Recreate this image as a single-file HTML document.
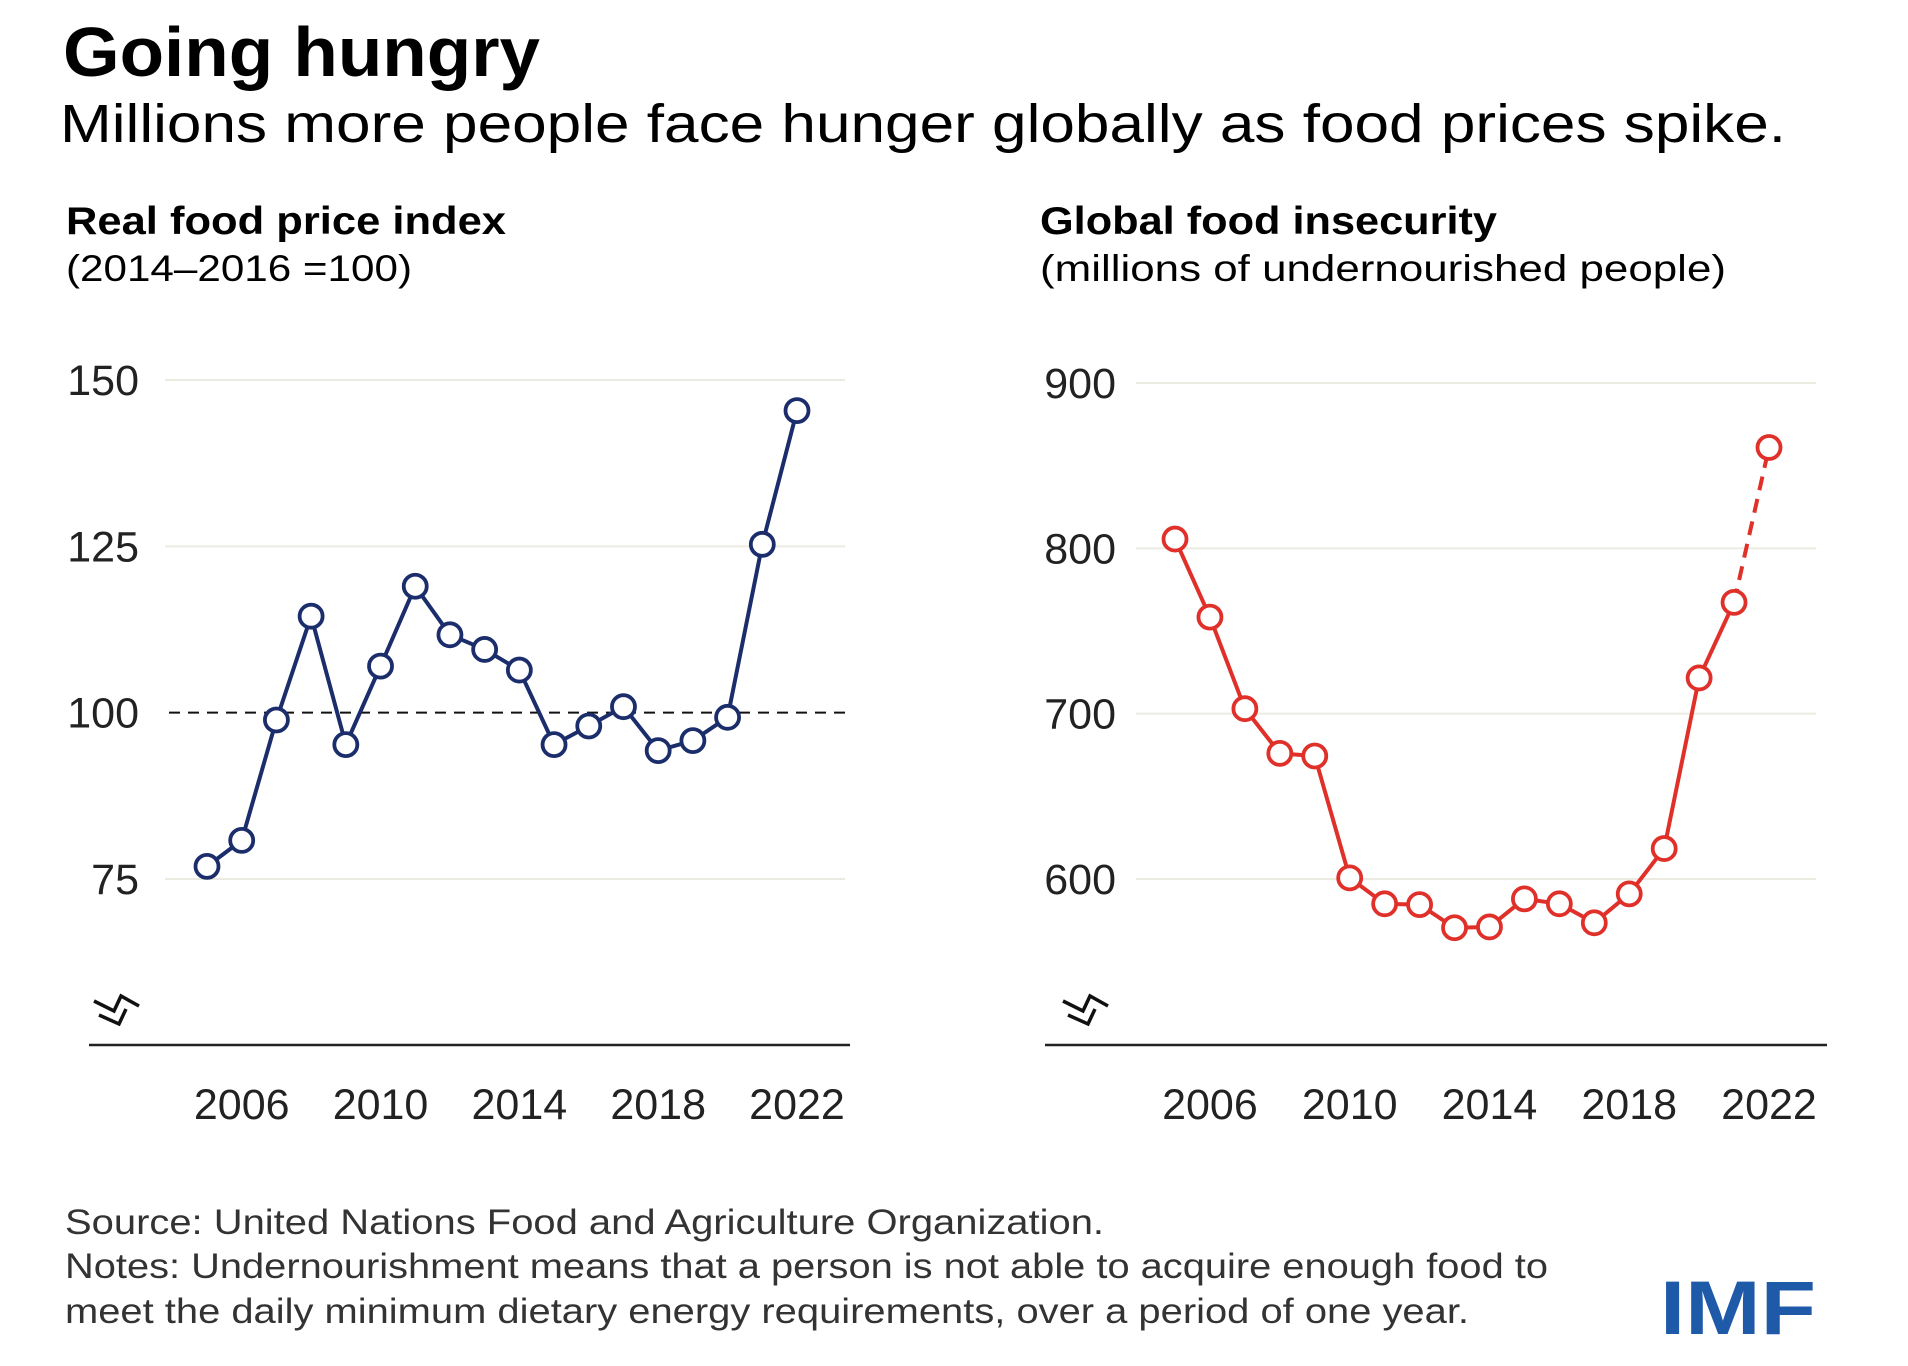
<!DOCTYPE html>
<html><head><meta charset="utf-8"><style>
html,body{margin:0;padding:0;background:#fff}
svg{display:block}
text{font-family:"Liberation Sans",sans-serif}
</style></head><body>
<svg id="root" width="1908" height="1366" viewBox="0 0 1908 1366">
<rect width="1908" height="1366" fill="#fff"/>
<text x="63" y="76" font-size="70" font-weight="bold" textLength="477" lengthAdjust="spacingAndGlyphs">Going hungry</text>
<text x="60" y="142" font-size="54" textLength="1726" lengthAdjust="spacingAndGlyphs">Millions more people face hunger globally as food prices spike.</text>
<text x="66" y="234" font-size="39" font-weight="bold" textLength="440" lengthAdjust="spacingAndGlyphs">Real food price index</text>
<text x="66" y="281" font-size="37" textLength="346" lengthAdjust="spacingAndGlyphs">(2014–2016 =100)</text>
<text x="1040" y="234" font-size="39" font-weight="bold" textLength="457" lengthAdjust="spacingAndGlyphs">Global food insecurity</text>
<text x="1040" y="281" font-size="37" textLength="686" lengthAdjust="spacingAndGlyphs">(millions of undernourished people)</text>
<g id="left"></g>
<g id="right"></g>
<text x="65" y="1234" font-size="35" fill="#333" textLength="1039" lengthAdjust="spacingAndGlyphs">Source: United Nations Food and Agriculture Organization.</text>
<text x="65" y="1278" font-size="35" fill="#333" textLength="1483" lengthAdjust="spacingAndGlyphs">Notes: Undernourishment means that a person is not able to acquire enough food to</text>
<text x="65" y="1323" font-size="35" fill="#333" textLength="1404" lengthAdjust="spacingAndGlyphs">meet the daily minimum dietary energy requirements, over a period of one year.</text>
<text x="1660" y="1334" font-size="76" font-weight="bold" fill="#1e5aa8" textLength="156" lengthAdjust="spacingAndGlyphs">IMF</text>
</svg>
<script>
const years = [2005,2006,2007,2008,2009,2010,2011,2012,2013,2014,2015,2016,2017,2018,2019,2020,2021,2022];
const priceValues = [76.9,80.8,98.9,114.5,95.2,107,119,111.7,109.5,106.4,95.2,98,100.9,94.3,95.8,99.3,125.3,145.4];
const hungerValues = [805.6,758.4,703,676,674.4,600.7,585,584.5,570.5,571,588,585,573.5,591,618.4,721.6,767.3,861];
const priceTicks = [75,100,125,150];
const hungerTicks = [600,700,800,900];
const yearTicks = [2006,2010,2014,2018,2022];

const NS = 'http://www.w3.org/2000/svg';
function mk(parent, tag, attrs){const e=document.createElementNS(NS,tag);for(const k in attrs)e.setAttribute(k,attrs[k]);parent.appendChild(e);return e;}

function drawPanel(g, cfg){
  const x = yr => cfg.x0 + (yr-2005)*(cfg.x1-cfg.x0)/17;
  const y = v => cfg.yTop + (cfg.vTop - v)*(cfg.yBot-cfg.yTop)/(cfg.vTop-cfg.vBot);
  cfg.ticks.forEach(t=>{
    if(!(cfg.dashed && t===100)){
      const l = mk(g,'line',{x1:cfg.gx0,x2:cfg.gx1,y1:y(t),y2:y(t),stroke:'#ecebe2','stroke-width':2});
      
      
    }
    const tx = mk(g,'text',{x:cfg.labelX,y:y(t)+15,'font-size':43,'text-anchor':'end',fill:'#222'});
    tx.textContent = t;
    
    
  });
  if(cfg.dashed){
    const d = mk(g,'line',{x1:cfg.gx0+4,x2:cfg.gx1+6,y1:y(100),y2:y(100),stroke:'#111','stroke-width':2,'stroke-dasharray':'11 8'});
    
    
  }
  const ax = mk(g,'line',{x1:cfg.ax0,x2:cfg.ax1,y1:1045,y2:1045,stroke:'#222','stroke-width':2.5});
  
  
  const b = cfg.bx - 118;
  const br = mk(g,'path',{d:`M${b+94},${1001} L${b+114},${1011} L${b+121},${996} L${b+139},${1006} M${b+99},${1015} L${b+119},${1024} L${b+126},${1009}`,fill:'none',stroke:'#111','stroke-width':3.5,'stroke-linejoin':'miter'});
  
  
  yearTicks.forEach(yr=>{
    const t = mk(g,'text',{x:x(yr),y:1119,'font-size':43,'text-anchor':'middle',fill:'#222'});
    t.textContent = yr;
    
    
  });
  const vals = cfg.values;
  const solidN = cfg.dashLast ? vals.length-1 : vals.length;
  let pts = '';
  for(let i=0;i<solidN;i++) pts += x(years[i])+','+y(vals[i])+' ';
  const pl = mk(g,'polyline',{points:pts,fill:'none',stroke:cfg.color,'stroke-width':4,'stroke-linejoin':'round'});
  
  
  if(cfg.dashLast){
    const n = vals.length;
    const dl = mk(g,'line',{x1:x(years[n-2]),y1:y(vals[n-2]),x2:x(years[n-1]),y2:y(vals[n-1]),stroke:cfg.color,'stroke-width':4,'stroke-dasharray':'14 9'});
    
    
  }
  vals.forEach((v,i)=>{
    const c = mk(g,'circle',{cx:x(years[i]),cy:y(v),r:11.5,fill:'#fff',stroke:cfg.color,'stroke-width':3.8});
    
    
  });
}

drawPanel(document.getElementById('left'),{
  x0:207,x1:797,yTop:380,yBot:879,vTop:150,vBot:75,ticks:priceTicks,values:priceValues,
  gx0:165,gx1:845,labelX:139,ax0:89,ax1:850,bx:118,color:'#1b2d6b',dashed:true,dashLast:false
});
drawPanel(document.getElementById('right'),{
  x0:1175,x1:1769,yTop:383,yBot:879,vTop:900,vBot:600,ticks:hungerTicks,values:hungerValues,
  gx0:1136,gx1:1816,labelX:1116,ax0:1045,ax1:1827,bx:1087,color:'#e0302a',dashed:false,dashLast:true
});
</script>
</body></html>
